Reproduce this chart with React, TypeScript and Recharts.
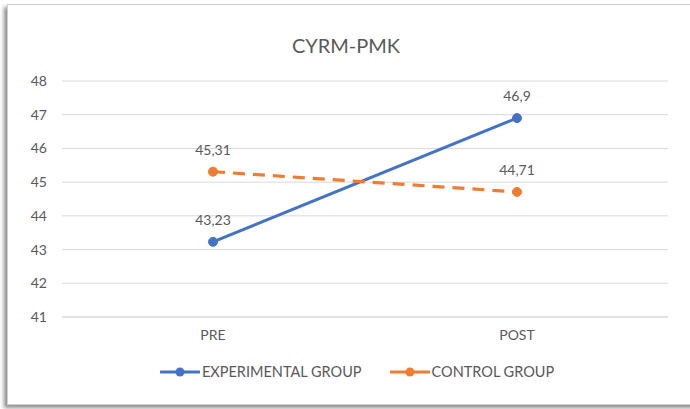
import { CartesianGrid, LabelList, Line, LineChart, XAxis, YAxis } from 'recharts'

const phases = ['PRE', 'POST']
const experimental = [43.23, 46.9]
const control = [45.31, 44.71]
const yTicks = [41, 42, 43, 44, 45, 46, 47, 48]

const seriesNames = ['EXPERIMENTAL GROUP', 'CONTROL GROUP']
const seriesColors = ['#4472c4', '#ed7d31']

const data = phases.map((p, i) => ({
  phase: p,
  experimental: experimental[i],
  control: control[i],
}))

const font = 'Lato, "Open Sans", sans-serif'
const gray = '#595959'
const commaFmt = (v: any) => String(v).replace('.', ',')

function LegendIcon({ color }: { color: string }) {
  return (
    <svg width={40} height={12} style={{ marginRight: 2 }}>
      <line x1={1} y1={6} x2={39} y2={6} stroke={color} strokeWidth={3} strokeLinecap="round" />
      <circle cx={20} cy={6} r={4.5} fill={color} />
    </svg>
  )
}

export default function App() {
  return (
    <div style={{ position: 'fixed', left: 0, top: 0, width: 690, height: 409, background: '#fff', overflow: 'hidden' }}>
      <div
        style={{
          position: 'absolute',
          left: 7,
          top: 4,
          width: 690,
          height: 399,
          background: '#fff',
          boxShadow: '-3px 3px 4px rgba(0,0,0,0.45)',
          border: '1px solid #d0d0d0',
        }}
      >
        <div
          style={{
            position: 'absolute',
            left: 0,
            width: 676,
            top: 28,
            textAlign: 'center',
            fontFamily: font,
            fontSize: 20,
            color: gray,
          }}
        >
          CYRM-PMK
        </div>
        <LineChart
          width={683}
          height={400}
          data={data}
          margin={{ top: 76, right: 23, left: 0, bottom: 58 }}
          style={{ fontFamily: font }}
        >
          <CartesianGrid vertical={false} stroke="#d9d9d9" />
          <XAxis
            dataKey="phase"
            padding={{ left: 151, right: 151 }}
            axisLine={{ stroke: '#d9d9d9' }}
            tickLine={false}
            tickSize={0}
            tickMargin={13}
            tick={{ fill: gray, fontSize: 14 }}
          />
          <YAxis
            width={54}
            domain={[41, 48]}
            ticks={yTicks}
            axisLine={false}
            tickLine={false}
            tickSize={0}
            tickMargin={15}
            tick={{ fill: gray, fontSize: 14 }}
          />
          <Line
            dataKey="experimental"
            name={seriesNames[0]}
            stroke={seriesColors[0]}
            strokeWidth={3}
            dot={{ r: 4.5, fill: seriesColors[0], stroke: seriesColors[0], strokeWidth: 1 }}
            isAnimationActive={false}
          >
            <LabelList dataKey="experimental" position="top" offset={17} formatter={commaFmt} fill={gray} fontSize={14} />
          </Line>
          <Line
            dataKey="control"
            name={seriesNames[1]}
            stroke={seriesColors[1]}
            strokeWidth={3.2}
            strokeDasharray="12 8"
            dot={{ r: 4.5, fill: seriesColors[1], stroke: seriesColors[1], strokeWidth: 1, strokeDasharray: '' }}
            isAnimationActive={false}
          >
            <LabelList dataKey="control" position="top" offset={17} formatter={commaFmt} fill={gray} fontSize={14} />
          </Line>
        </LineChart>
        <div
          style={{
            position: 'absolute',
            top: 358,
            left: 152,
            display: 'flex',
            gap: 28,
            fontFamily: font,
            fontSize: 14.5,
            color: gray,
          }}
        >
          {seriesNames.map((n, i) => (
            <span key={n} style={{ display: 'flex', alignItems: 'center' }}>
              <LegendIcon color={seriesColors[i]} />
              {n}
            </span>
          ))}
        </div>
      </div>
    </div>
  )
}
